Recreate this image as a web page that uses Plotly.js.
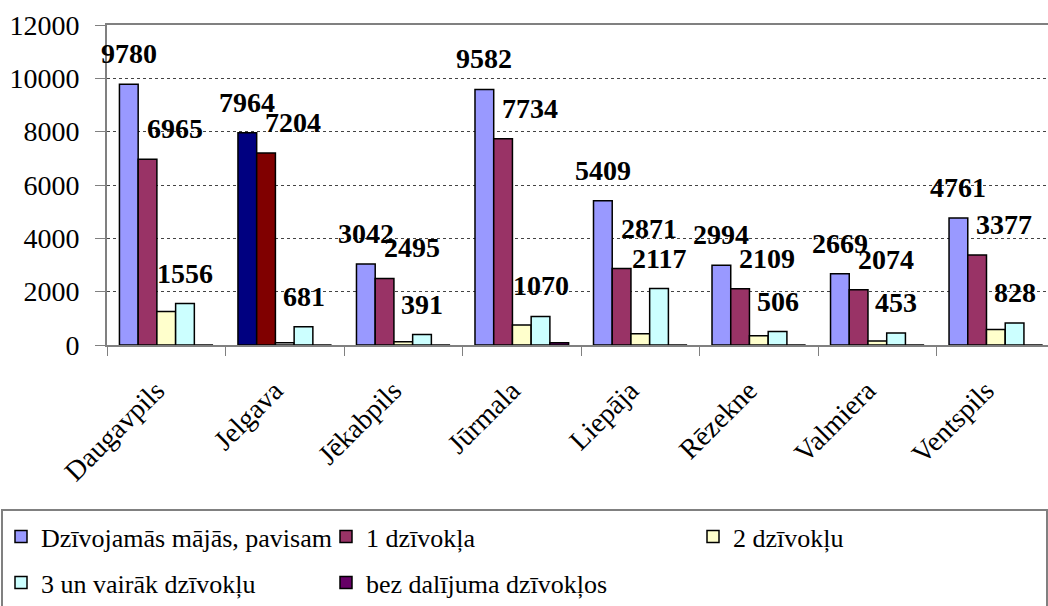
<!DOCTYPE html>
<html>
<head>
<meta charset="utf-8">
<script src="https://cdn.plot.ly/plotly-3.0.1.min.js"></script>
<style>
  body { margin: 0; background: #fff; }
  #chart { width: 1048px; height: 606px; }
</style>
</head>
<body>
<div id="chart"></div>
<script>
// data
var cities = ['Daugavpils', 'Jelgava', 'Jēkabpils', 'Jūrmala', 'Liepāja', 'Rēzekne', 'Valmiera', 'Ventspils'];
var seriesNames = ['Dzīvojamās mājās, pavisam', '1 dzīvokļa', '2 dzīvokļu', '3 un vairāk dzīvokļu', 'bez dalījuma dzīvokļos'];
var totalHouses = [9780, 7964, 3042, 9582, 5409, 2994, 2669, 4761];
var oneFlat = [6965, 7204, 2495, 7734, 2871, 2109, 2074, 3377];
var twoFlats = [1259, 85, 122, 752, 419, 344, 148, 581];
var threePlus = [1556, 681, 391, 1070, 2117, 506, 453, 828];
var undivided = [0, 0, 0, 85, 0, 0, 0, 0];
var yTicks = [0, 2000, 4000, 6000, 8000, 10000, 12000];

var allSeries = [totalHouses, oneFlat, twoFlats, threePlus, undivided];
var labelled = [0, 1, 3];   // series that carry value labels

// Jelgava is drawn in other shades in the original
var baseColors = ['#9999FF', '#993366', '#FFFFCC', '#CCFFFF', '#660066'];
var jelgavaColors = ['#000080', '#800000', '#FFFFFF', '#CCFFFF', '#660066'];
var legendIds = ['legend', 'legend2', 'legend3', 'legend4', 'legend5'];

var serif = "'Liberation Serif', 'Times New Roman', serif";
var bargap = 0.21;
var barW = (1 - bargap) / allSeries.length;
var pxPerUnit = 324 / 12000;   // plot height in px over the y range

var data = [];
for (let k = 0; k < allSeries.length; k++) {
  const cols = cities.map((c) => c === 'Jelgava' ? jelgavaColors[k] : baseColors[k]);
  data.push({
    type: 'bar',
    name: seriesNames[k],
    x: cities,
    y: allSeries[k],
    legend: legendIds[k],
    marker: { color: cols, line: { color: '#000', width: 1.5 } },
    hoverinfo: 'skip'
  });
}

// value labels over the bars; the "1 dzīvokļa" label is lifted
// when it would sit on top of the "3 un vairāk" label next to it
var labelGap = 13, labelH = 30;
var annotations = [];
labelled.forEach(function (k) {
  allSeries[k].forEach(function (v, i) {
    var shift = labelGap;
    if (k === 1) {
      var otherTop = threePlus[i] * pxPerUnit + labelGap + labelH;
      var mine = v * pxPerUnit + labelGap;
      if (mine < otherTop) shift = labelGap + (otherTop - mine);
    }
    annotations.push({
      x: i + (k - 2) * barW,
      y: v,
      xref: 'x', yref: 'y',
      text: String(v),
      showarrow: false,
      yanchor: 'bottom',
      xshift: k === 1 ? 27 : 0,
      yshift: shift,
      font: { family: serif, size: 28, color: '#000', weight: 'bold' }
    });
  });
});

// legend positions in paper units (plot is 941 x 324 px, origin at 107,349)
function px2x(px) { return (px - 107) / 941; }
function px2y(py) { return (349 - py) / 324; }

var legendFont = { family: serif, size: 26, color: '#000' };
function legendAt(px, py) {
  return {
    x: px2x(px), y: px2y(py), xanchor: 'left', yanchor: 'middle',
    orientation: 'h', bgcolor: 'rgba(0,0,0,0)', borderwidth: 0,
    font: legendFont, itemclick: false, itemdoubleclick: false
  };
}

var layout = {
  width: 1048,
  height: 606,
  margin: { l: 107, r: 0, t: 25, b: 257 },
  paper_bgcolor: '#fff',
  plot_bgcolor: '#fff',
  font: { family: serif, color: '#000' },
  barmode: 'group',
  bargap: bargap,
  bargroupgap: 0,
  showlegend: true,
  legend: legendAt(1, 543),
  legend2: legendAt(326, 543),
  legend3: legendAt(693, 543),
  legend4: legendAt(1, 590),
  legend5: legendAt(326, 590),
  xaxis: {
    type: 'category',
    range: [-0.5, 7.44],
    tickangle: -45,
    ticks: 'outside',
    tickson: 'boundaries',
    ticklen: 9,
    tickcolor: '#808080',
    ticklabelstandoff: 16,
    ticklabelshift: -10,
    showline: true,
    linecolor: '#808080',
    linewidth: 2,
    mirror: true,
    showgrid: false,
    tickfont: { family: serif, size: 28, color: '#000' }
  },
  yaxis: {
    range: [0, 12000],
    tickvals: yTicks,
    tickformat: 'd',
    ticks: 'outside',
    ticklen: 10,
    tickcolor: '#808080',
    ticklabelstandoff: 10,
    showline: true,
    linecolor: '#808080',
    linewidth: 2,
    zeroline: false,
    showgrid: true,
    gridcolor: '#444',
    gridwidth: 1,
    griddash: '3px,3px',
    tickfont: { family: serif, size: 28, color: '#000' }
  },
  annotations: annotations,
  shapes: [{
    type: 'rect', xref: 'paper', yref: 'paper',
    x0: px2x(2), x1: px2x(1047), y0: px2y(640), y1: px2y(516),
    line: { color: '#808080', width: 2 },
    fillcolor: 'rgba(0,0,0,0)'
  }]
};

Plotly.newPlot('chart', data, layout, { displayModeBar: false, staticPlot: true });
</script>
</body>
</html>
